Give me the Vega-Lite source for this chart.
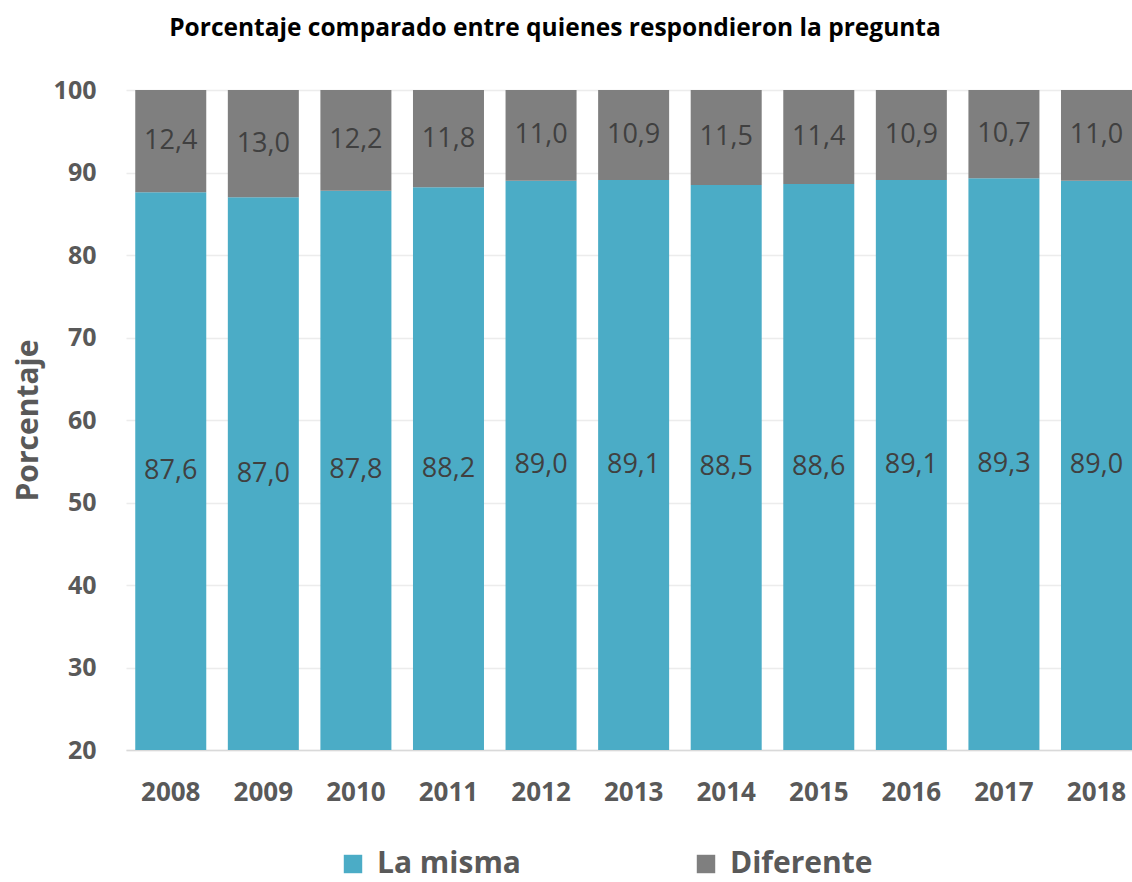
{
  "$schema": "https://vega.github.io/schema/vega-lite/v6.json",
  "width": 1006,
  "height": 660,
  "autosize": {"type": "none"},
  "padding": {"left": 126, "top": 90, "right": 0, "bottom": 132},
  "background": "white",
  "config": {
    "locale": {"number": {"decimal": ",", "thousands": ".", "grouping": [3], "currency": ["", " €"]}},
    "font": "Open Sans",
    "view": {"stroke": null}
  },
  "title": {
    "text": "Porcentaje comparado entre quienes respondieron la pregunta",
    "font": "Open Sans",
    "fontSize": 24.5,
    "fontWeight": "bold",
    "color": "#000000",
    "anchor": "middle",
    "dx": -74,
    "offset": 37
  },
  "data": {
    "values": [
      {"year": "2008", "category": "La misma", "value": 87.6},
      {"year": "2008", "category": "Diferente", "value": 12.4},
      {"year": "2009", "category": "La misma", "value": 87.0},
      {"year": "2009", "category": "Diferente", "value": 13.0},
      {"year": "2010", "category": "La misma", "value": 87.8},
      {"year": "2010", "category": "Diferente", "value": 12.2},
      {"year": "2011", "category": "La misma", "value": 88.2},
      {"year": "2011", "category": "Diferente", "value": 11.8},
      {"year": "2012", "category": "La misma", "value": 89.0},
      {"year": "2012", "category": "Diferente", "value": 11.0},
      {"year": "2013", "category": "La misma", "value": 89.1},
      {"year": "2013", "category": "Diferente", "value": 10.9},
      {"year": "2014", "category": "La misma", "value": 88.5},
      {"year": "2014", "category": "Diferente", "value": 11.5},
      {"year": "2015", "category": "La misma", "value": 88.6},
      {"year": "2015", "category": "Diferente", "value": 11.4},
      {"year": "2016", "category": "La misma", "value": 89.1},
      {"year": "2016", "category": "Diferente", "value": 10.9},
      {"year": "2017", "category": "La misma", "value": 89.3},
      {"year": "2017", "category": "Diferente", "value": 10.7},
      {"year": "2018", "category": "La misma", "value": 89.0},
      {"year": "2018", "category": "Diferente", "value": 11.0}
    ]
  },
  "transform": [
    {"calculate": "datum.category === 'La misma' ? 0 : 1", "as": "order"},
    {"calculate": "datum.category === 'La misma' ? (20 + datum.value) / 2 : 100 - datum.value / 2", "as": "labelPos"}
  ],
  "encoding": {
    "x": {
      "field": "year",
      "type": "ordinal",
      "scale": {"paddingInner": 0.233, "paddingOuter": 0.05, "align": 1},
      "axis": {
        "title": null,
        "labelAngle": 0,
        "labelFont": "Open Sans",
        "labelFontSize": 26,
        "labelFontWeight": "bold",
        "labelColor": "#595959",
        "labelPadding": 29,
        "ticks": false,
        "domainColor": "#d9d9d9",
        "domainWidth": 1.5
      }
    }
  },
  "layer": [
    {
      "mark": {"type": "bar", "clip": true},
      "encoding": {
        "y": {
          "field": "value",
          "type": "quantitative",
          "stack": "zero",
          "scale": {"domain": [20, 100], "nice": false},
          "axis": {
            "title": "Porcentaje",
            "titleFont": "Open Sans",
            "titleFontSize": 30,
            "titleFontWeight": "bold",
            "titleColor": "#595959",
            "titlePadding": 10,
            "values": [20, 30, 40, 50, 60, 70, 80, 90, 100],
            "labelFont": "Open Sans",
            "labelFontSize": 25,
            "labelFontWeight": "bold",
            "labelColor": "#595959",
            "labelPadding": 30,
            "ticks": false,
            "domain": false,
            "grid": true,
            "gridColor": "#ececec",
            "gridWidth": 1.5
          }
        },
        "color": {
          "field": "category",
          "type": "nominal",
          "scale": {"domain": ["La misma", "Diferente"], "range": ["#4bacc6", "#7f7f7f"]},
          "legend": {
            "title": null,
            "orient": "none",
            "direction": "horizontal",
            "legendX": 212,
            "legendY": 759,
            "symbolType": "square",
            "symbolSize": 340,
            "symbolStrokeWidth": 0,
            "symbolOpacity": 1,
            "labelFont": "Open Sans",
            "labelFontSize": 30,
            "labelFontWeight": "bold",
            "labelColor": "#595959",
            "labelOffset": 9,
            "columnPadding": 170
          }
        },
        "order": {"field": "order", "type": "quantitative"}
      }
    },
    {
      "mark": {"type": "text", "font": "Open Sans", "fontSize": 27, "color": "#404040", "baseline": "middle"},
      "encoding": {
        "y": {"field": "labelPos", "type": "quantitative"},
        "text": {"field": "value", "type": "quantitative", "format": ".1f"}
      }
    }
  ]
}
